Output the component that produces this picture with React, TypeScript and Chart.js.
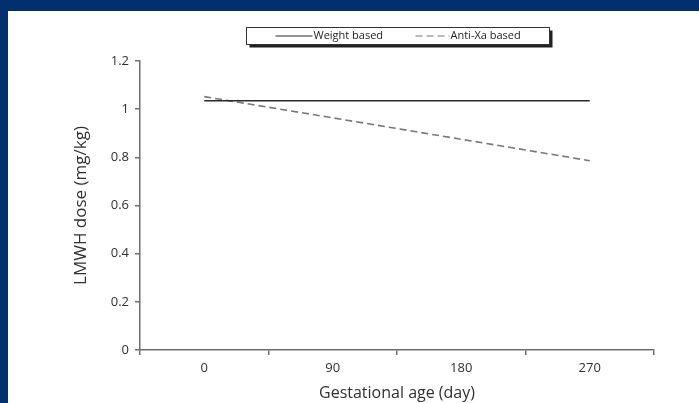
import React, { useEffect, useRef } from "react";
import { Chart, registerables } from "chart.js";

Chart.register(...registerables);

const categories = ["0", "90", "180", "270"];
const weightBased = [1.035, 1.035, 1.035, 1.035];
const antiXaBased = [1.052, 0.964, 0.875, 0.786];
const yTicks = [0, 0.2, 0.4, 0.6, 0.8, 1, 1.2];
const seriesNames = ["Weight based", "Anti-Xa based"];

const FONT = "'Open Sans', Lato, sans-serif";
const TEXT = "#303030";
const AXIS = "#6f6f6f";

const boxLegend = {
  id: "boxLegend",
  afterDraw(chart: any) {
    const { ctx, chartArea } = chart;
    const cx = (chartArea.left + chartArea.right) / 2;
    const w = 303;
    const h = 17;
    const x = Math.round(cx - w / 2) + 0.5;
    const y = 27.5;
    ctx.save();
    ctx.fillStyle = "#222";
    ctx.fillRect(x + 3, y + 3, w, h);
    ctx.fillStyle = "#fff";
    ctx.fillRect(x, y, w, h);
    ctx.strokeStyle = "#333";
    ctx.lineWidth = 1;
    ctx.strokeRect(x, y, w, h);
    const midY = y + h / 2;
    const items = [
      { sx: 29, tx: 66 },
      { sx: 169, tx: 203 },
    ];
    chart.data.datasets.forEach((ds: any, i: number) => {
      const it = items[i];
      ctx.beginPath();
      ctx.strokeStyle = ds.borderColor;
      ctx.lineWidth = 1.2;
      ctx.setLineDash(ds.borderDash ? [7, 4] : []);
      ctx.moveTo(x + it.sx, midY);
      ctx.lineTo(x + it.tx, midY);
      ctx.stroke();
      ctx.setLineDash([]);
      ctx.fillStyle = "#1e1e1e";
      ctx.font = `11px ${FONT}`;
      ctx.textBaseline = "middle";
      ctx.textAlign = "left";
      ctx.fillText(ds.label, x + it.tx + 1, midY);
    });
    ctx.restore();
  },
};

export default function App() {
  const ref = useRef<HTMLCanvasElement | null>(null);

  useEffect(() => {
    if (!ref.current) return;
    const chart = new Chart(ref.current, {
      type: "line",
      data: {
        labels: categories,
        datasets: [
          {
            label: seriesNames[0],
            data: weightBased,
            borderColor: "#2b2b2b",
            borderWidth: 1.6,
            pointRadius: 0,
            tension: 0,
            fill: false,
          },
          {
            label: seriesNames[1],
            data: antiXaBased,
            borderColor: "#777777",
            borderWidth: 1.6,
            borderDash: [7, 4],
            pointRadius: 0,
            tension: 0,
            fill: false,
          },
        ],
      },
      options: {
        responsive: false,
        animation: false,
        devicePixelRatio: 1,
        layout: { padding: { left: 71, right: 45, top: 61, bottom: 0 } },
        plugins: {
          legend: { display: false },
          tooltip: { enabled: false },
        },
        scales: {
          x: {
            type: "category",
            offset: true,
            grid: {
              offset: true,
              drawOnChartArea: false,
              drawTicks: true,
              tickLength: 5,
              color: AXIS,
              lineWidth: 1.5,
            },
            border: { display: true, color: AXIS, width: 1.5 },
            ticks: {
              color: TEXT,
              font: { family: FONT, size: 13 },
              padding: 5,
              maxRotation: 0,
            },
            title: {
              display: true,
              text: "Gestational age (day)",
              color: TEXT,
              font: { family: FONT, size: 16 },
              padding: { top: 0, bottom: 0 },
            },
            afterFit: (s: any) => {
              s.height = 53;
            },
          },
          y: {
            type: "linear",
            min: 0,
            max: 1.2,
            afterBuildTicks: (s: any) => {
              s.ticks = yTicks.map((v) => ({ value: v }));
            },
            grid: {
              drawOnChartArea: false,
              drawTicks: true,
              tickLength: 5,
              color: AXIS,
              lineWidth: 1.5,
            },
            border: { display: true, color: AXIS, width: 1.5 },
            ticks: {
              color: TEXT,
              font: { family: FONT, size: 13 },
              padding: 6,
              callback: (v: any) => String(Number(Number(v).toFixed(1))),
            },
            title: {
              display: true,
              text: "LMWH dose (mg/kg)",
              color: TEXT,
              font: { family: FONT, size: 17 },
              padding: { top: 0, bottom: 0 },
            },
            afterFit: (s: any) => {
              s.width = 69;
            },
          },
        },
      },
      plugins: [boxLegend],
    });
    return () => chart.destroy();
  }, []);

  return (
    <div
      style={{
        position: "fixed",
        left: 0,
        top: 0,
        width: 699,
        height: 403,
        background: "#01306f",
        overflow: "hidden",
      }}
    >
      <div
        style={{
          position: "absolute",
          left: 8,
          top: 11,
          right: 0,
          bottom: 0,
          background: "#ffffff",
        }}
      />
      <canvas
        ref={ref}
        width={699}
        height={403}
        style={{ position: "absolute", left: 0, top: 0, width: 699, height: 403 }}
      />
    </div>
  );
}
